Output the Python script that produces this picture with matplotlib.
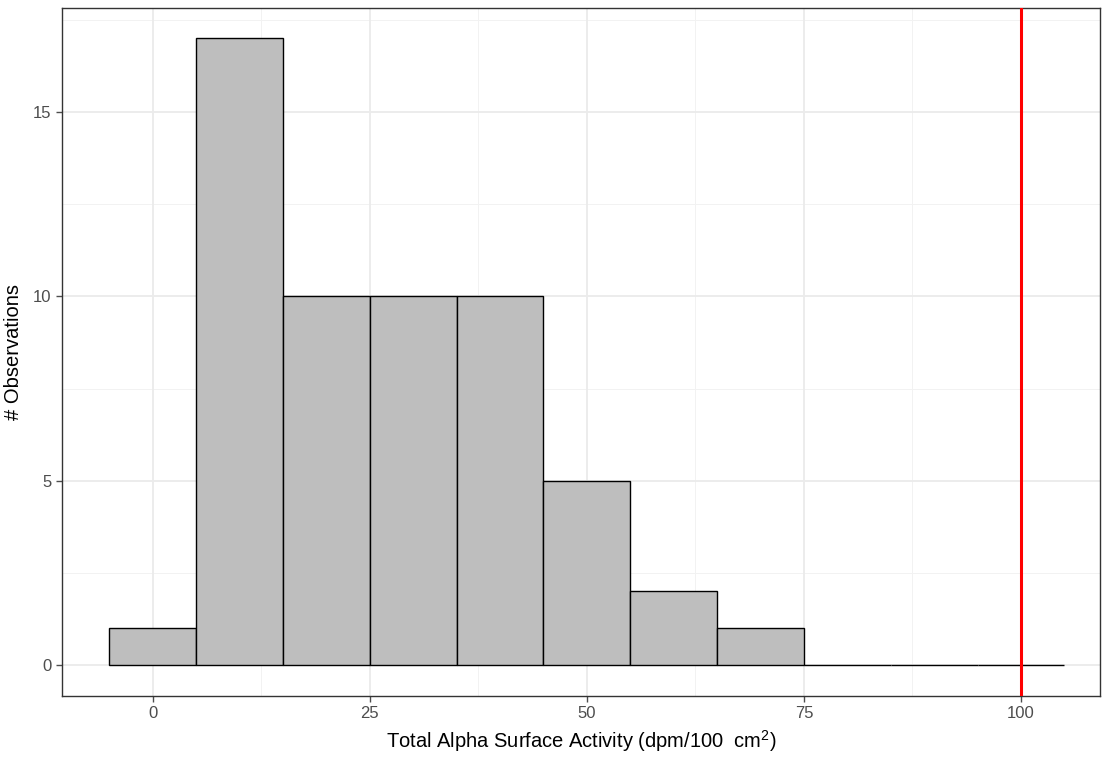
import matplotlib
matplotlib.use("Agg")
import matplotlib.pyplot as plt
import numpy as np

plt.rcParams['font.family'] = ['Liberation Sans', 'DejaVu Sans']

# histogram bins (centres, width 10) and counts
bin_centres = [0, 10, 20, 30, 40, 50, 60, 70, 80, 90, 100]
counts = [1, 17, 10, 10, 10, 5, 2, 1, 0, 0, 0]
bin_width = 10
limit_value = 100  # red reference line

x_ticks = [0, 25, 50, 75, 100]
y_ticks = [0, 5, 10, 15]

fig = plt.figure(figsize=(11.03, 7.57), dpi=100)
ax = fig.add_axes([62 / 1103, 1 - 696 / 757, (1100 - 62) / 1103, (696 - 8) / 757])

# grid like ggplot theme_bw
for v in [12.5, 37.5, 62.5, 87.5]:
    ax.axvline(v, color='#F2F2F2', lw=0.7, zorder=0)
for v in [2.5, 7.5, 12.5, 17.5]:
    ax.axhline(v, color='#F2F2F2', lw=0.7, zorder=0)
for v in x_ticks:
    ax.axvline(v, color='#EBEBEB', lw=1.3, zorder=0)
for v in y_ticks:
    ax.axhline(v, color='#EBEBEB', lw=1.3, zorder=0)

ax.bar(bin_centres, counts, width=bin_width, color='#BEBEBE',
       edgecolor='black', linewidth=1.0, zorder=2)
ax.axvline(limit_value, color='red', lw=2.2, zorder=3)

ax.set_xlim(-10.45, 109.1)
ax.set_ylim(-0.84, 17.82)
ax.set_xticks(x_ticks)
ax.set_yticks(y_ticks)
ax.tick_params(colors='#4D4D4D', labelsize=12, length=4, width=1,
               labelcolor='#4D4D4D')
for s in ax.spines.values():
    s.set_color('#333333')
    s.set_linewidth(1.0)

ax.set_xlabel('Total Alpha Surface Activity (dpm/100  cm$^{\\mathregular{2}}$)',
              fontsize=14.5, color='black', labelpad=5)
ax.set_ylabel('# Observations', fontsize=14.5, color='black', labelpad=7)

fig.savefig('out.png', dpi=100)
